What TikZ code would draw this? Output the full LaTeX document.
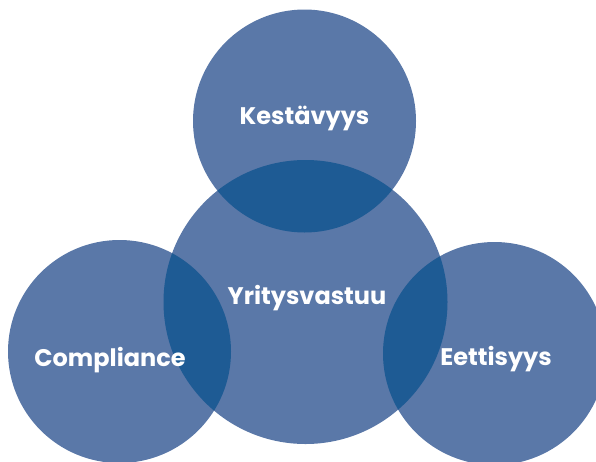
\documentclass[tikz,border=0pt]{standalone}
\usepackage{fontspec}
\setmainfont{Poppins}
\definecolor{ringlight}{HTML}{5A78A8}
\definecolor{ringdark}{HTML}{1E5B94}
\begin{document}
\begin{tikzpicture}[x=1pt,y=-1pt,
  ring/.style={fill=ringlight,draw=none},
  lbl/.style={text=white,font=\bfseries\fontsize{24}{28}\selectfont,anchor=base,inner sep=0pt}]
\useasboundingbox (0,0) rectangle (596,461);
\clip (0,0) rectangle (596,461);
% circle centres and radii
\coordinate (cT) at (304.5,121);
\coordinate (cC) at (305.5,302);
\coordinate (cL) at (119.5,351.5);
\coordinate (cR) at (494.5,353.5);
\def\rsmall{111.5}
\def\rbig{142}
% filled circles
\fill[ring] (cT) circle (\rsmall);
\fill[ring] (cC) circle (\rbig);
\fill[ring] (cL) circle (\rsmall);
\fill[ring] (cR) circle (\rsmall);
% overlaps with the central circle
\begin{scope}
  \clip (cC) circle (\rbig);
  \fill[ringdark] (cT) circle (\rsmall);
  \fill[ringdark] (cL) circle (\rsmall);
  \fill[ringdark] (cR) circle (\rsmall);
\end{scope}
% labels
\node[lbl] (kes) at (304.5,124) {Kestävyys};
\node[lbl] (yri) at (307,304) {Yritysvastuu};
\node[lbl] (com) at (110,366.5) {Compliance};
\node[lbl] (eet) at (496,365) {Eettisyys};
\end{tikzpicture}
\end{document}
